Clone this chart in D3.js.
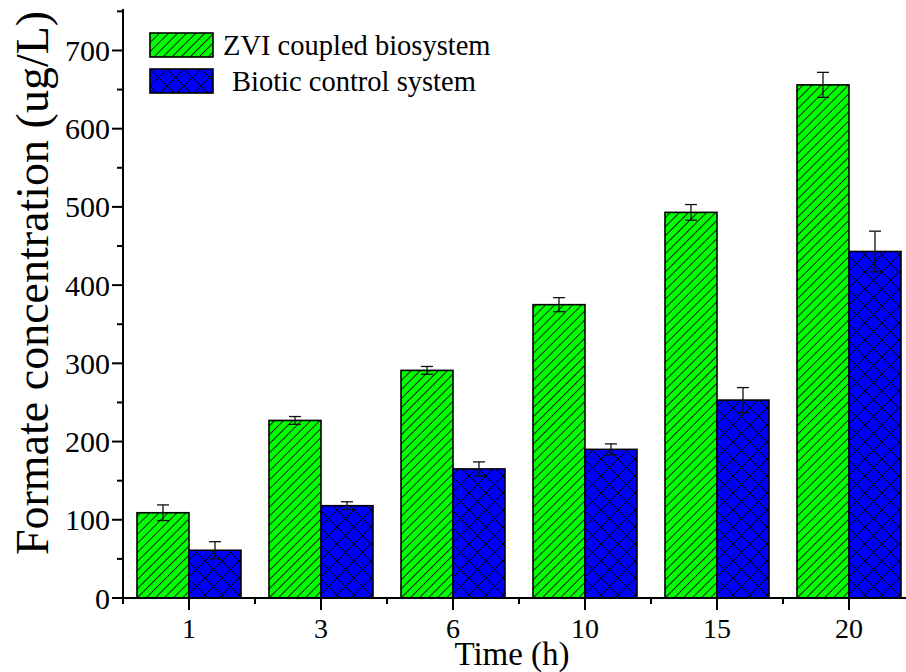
<!DOCTYPE html>
<html>
<head>
<meta charset="utf-8">
<script src="https://cdn.jsdelivr.net/npm/d3@7"></script>
<style>
  html, body { margin: 0; padding: 0; background: #fff; }
  svg { display: block; }
</style>
</head>
<body>
<div id="chart"></div>
<script>
// ---- data ----
const times = ["1", "3", "6", "10", "15", "20"];
const seriesNames = ["ZVI coupled biosystem", "Biotic control system"];
const zviValues = [109, 227, 291, 375, 493, 656];
const zviErrors = [10, 5, 5, 9, 10, 16];
const bioticValues = [61, 118, 165, 190, 253, 443];
const bioticErrors = [11, 5, 9, 7, 16, 26];
const yTicks = [0, 100, 200, 300, 400, 500, 600, 700];
const yMinorTicks = [50, 150, 250, 350, 450, 550, 650, 750];

const W = 906, H = 672;
const margin = { left: 123, top: 9, bottom: 74 };
const plotRight = 915; // plot extends past the visible frame (cropped)
const FONT = "'Liberation Serif', 'Times New Roman', serif";

const svg = d3.select("#chart").append("svg")
  .attr("width", W).attr("height", H)
  .attr("viewBox", `0 0 ${W} ${H}`)
  .attr("font-family", FONT);

svg.append("rect").attr("width", W).attr("height", H).attr("fill", "#fff");

// ---- patterns ----
const defs = svg.append("defs");
const pg = defs.append("pattern")
  .attr("id", "hatchGreen")
  .attr("patternUnits", "userSpaceOnUse")
  .attr("width", 6.4).attr("height", 6.4)
  .attr("patternTransform", "rotate(45)");
pg.append("rect").attr("width", 6.4).attr("height", 6.4).attr("fill", "#00ff00");
pg.append("line").attr("x1", 0.5).attr("y1", 0).attr("x2", 0.5).attr("y2", 6.4)
  .attr("stroke", "#111").attr("stroke-width", 0.9);

const pb = defs.append("pattern")
  .attr("id", "hatchBlue")
  .attr("patternUnits", "userSpaceOnUse")
  .attr("width", 17).attr("height", 17);
pb.append("rect").attr("width", 17).attr("height", 17).attr("fill", "#0000ff");
pb.append("path").attr("d", "M0,0L17,17M0,17L17,0M-1,1L1,-1M16,18L18,16M-1,16L1,18M16,-1L18,1")
  .attr("stroke", "#000").attr("stroke-width", 1).attr("fill", "none");

const fills = ["url(#hatchGreen)", "url(#hatchBlue)"];

// ---- scales ----
const y = d3.scaleLinear().domain([0, 753]).range([H - margin.bottom, margin.top]);
const x = d3.scaleBand().domain(times).range([margin.left, plotRight])
  .paddingInner(28 / 132).paddingOuter(14 / 132);
const xSub = d3.scaleBand().domain(seriesNames).range([0, x.bandwidth()]);
const step = x.step();

const y0 = y(0);

// ---- bars ----
const rows = times.map((t, i) => ({
  t,
  vals: [
    { s: seriesNames[0], v: zviValues[i], e: zviErrors[i], k: 0 },
    { s: seriesNames[1], v: bioticValues[i], e: bioticErrors[i], k: 1 }
  ]
}));

const groups = svg.append("g").selectAll("g").data(rows).join("g")
  .attr("transform", d => `translate(${x(d.t)},0)`);

groups.selectAll("rect").data(d => d.vals).join("rect")
  .attr("x", d => xSub(d.s))
  .attr("y", d => y(d.v))
  .attr("width", xSub.bandwidth())
  .attr("height", d => y0 - y(d.v))
  .attr("fill", d => fills[d.k])
  .attr("stroke", "#000")
  .attr("stroke-width", 1.6);

// error bars
const capHalf = 6;
const eb = groups.selectAll("g.err").data(d => d.vals).join("g").attr("class", "err")
  .attr("stroke", "#111").attr("stroke-width", 1.3);
eb.append("line")
  .attr("x1", d => xSub(d.s) + xSub.bandwidth() / 2)
  .attr("x2", d => xSub(d.s) + xSub.bandwidth() / 2)
  .attr("y1", d => y(d.v + d.e)).attr("y2", d => y(d.v - d.e));
eb.append("line")
  .attr("x1", d => xSub(d.s) + xSub.bandwidth() / 2 - capHalf)
  .attr("x2", d => xSub(d.s) + xSub.bandwidth() / 2 + capHalf)
  .attr("y1", d => y(d.v + d.e)).attr("y2", d => y(d.v + d.e));
eb.append("line")
  .attr("x1", d => xSub(d.s) + xSub.bandwidth() / 2 - capHalf)
  .attr("x2", d => xSub(d.s) + xSub.bandwidth() / 2 + capHalf)
  .attr("y1", d => y(d.v - d.e)).attr("y2", d => y(d.v - d.e));

// ---- axes ----
const axisColor = "#000";
// x axis
const xAxisG = svg.append("g").attr("transform", `translate(0,${y0})`);
xAxisG.append("line").attr("x1", margin.left - 1).attr("x2", plotRight)
  .attr("stroke", axisColor).attr("stroke-width", 2);
const xCenter = t => x(t) + x.bandwidth() / 2;
xAxisG.selectAll("line.maj").data(times).join("line").attr("class", "maj")
  .attr("x1", xCenter).attr("x2", xCenter).attr("y1", 0).attr("y2", 12)
  .attr("stroke", axisColor).attr("stroke-width", 2);
const minorX = d3.range(times.length + 1).map(i => margin.left + i * step);
xAxisG.selectAll("line.min").data(minorX).join("line").attr("class", "min")
  .attr("x1", d => d).attr("x2", d => d).attr("y1", 0).attr("y2", 6)
  .attr("stroke", axisColor).attr("stroke-width", 2);
xAxisG.selectAll("text").data(times).join("text")
  .attr("x", xCenter).attr("y", 40)
  .attr("text-anchor", "middle").attr("font-size", 28)
  .attr("font-family", FONT)
  .text(d => d);

// y axis
const yAxisG = svg.append("g").attr("transform", `translate(${margin.left},0)`);
yAxisG.append("line").attr("y1", y0 + 1).attr("y2", margin.top)
  .attr("stroke", axisColor).attr("stroke-width", 2);
yAxisG.selectAll("line.maj").data(yTicks).join("line").attr("class", "maj")
  .attr("x1", 0).attr("x2", -11).attr("y1", d => y(d)).attr("y2", d => y(d))
  .attr("stroke", axisColor).attr("stroke-width", 2);
yAxisG.selectAll("line.min").data(yMinorTicks).join("line").attr("class", "min")
  .attr("x1", 0).attr("x2", -6).attr("y1", d => y(d)).attr("y2", d => y(d))
  .attr("stroke", axisColor).attr("stroke-width", 2);
yAxisG.selectAll("text").data(yTicks).join("text")
  .attr("x", -13).attr("y", d => y(d)).attr("dy", "0.35em")
  .attr("text-anchor", "end").attr("font-size", 30)
  .attr("font-family", FONT)
  .text(d => d);

// axis titles
svg.append("text")
  .attr("x", 512).attr("y", 665)
  .attr("text-anchor", "middle").attr("font-size", 33)
  .attr("font-family", FONT)
  .text("Time (h)");
svg.append("text")
  .attr("transform", `translate(48,${283}) rotate(-90)`)
  .attr("text-anchor", "middle").attr("font-size", 46)
  .attr("font-family", FONT)
  .text("Formate concentration (ug/L)");

// ---- legend ----
const legend = svg.append("g").attr("transform", "translate(150,33)");
const legItems = legend.selectAll("g").data(seriesNames).join("g")
  .attr("transform", (d, i) => `translate(0,${i * 36})`);
legItems.append("rect")
  .attr("width", 63).attr("height", 24)
  .attr("fill", (d, i) => fills[i])
  .attr("stroke", "#000").attr("stroke-width", 1.6);
legItems.append("text")
  .attr("x", (d, i) => i === 0 ? 73 : 82).attr("y", 22)
  .attr("font-size", 28.5)
  .attr("font-family", FONT)
  .text(d => d);
</script>
</body>
</html>
